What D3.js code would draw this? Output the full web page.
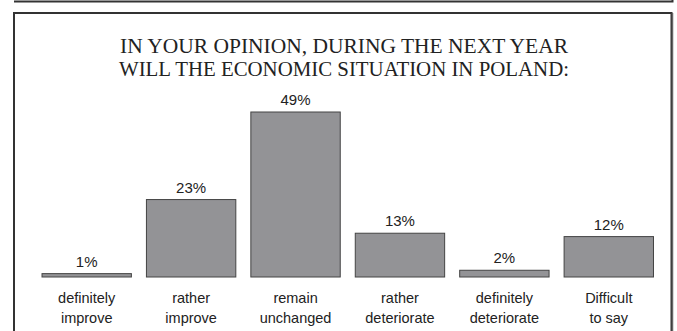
<!DOCTYPE html>
<html>
<head>
<meta charset="utf-8">
<script src="https://cdn.jsdelivr.net/npm/d3@7"></script>
<style>
  body { margin: 0; background: #fff; }
  svg { display: block; }
</style>
</head>
<body>
<script>
var categories = [["definitely", "improve"], ["rather", "improve"], ["remain", "unchanged"],
                  ["rather", "deteriorate"], ["definitely", "deteriorate"], ["Difficult", "to say"]];
var values = [1, 23, 49, 13, 2, 12];
var titleLines = ["IN YOUR OPINION, DURING THE NEXT YEAR", "WILL THE ECONOMIC SITUATION IN POLAND:"];

var width = 677, height = 331;

var svg = d3.select('body')
	.append('svg')
	.attr('width', width)
	.attr('height', height);

// strip of the previous box above
svg.append('path')
	.attr('d', 'M14,1.5H672.5V-2')
	.attr('fill', 'none')
	.attr('stroke', '#333')
	.attr('stroke-width', 2);

// frame
svg.append('path')
	.attr('d', 'M14,340V13H671.5V340')
	.attr('fill', 'none')
	.attr('stroke', '#333')
	.attr('stroke-width', 2);
svg.append('line')
	.attr('x1', 672.5).attr('x2', 672.5)
	.attr('y1', 13).attr('y2', 340)
	.attr('stroke', '#666')
	.attr('stroke-width', 1.5);

// title
svg.append('text')
	.attr('font-family', '"Liberation Serif", "Times New Roman", serif')
	.attr('font-size', 22)
	.attr('fill', '#222')
	.attr('text-anchor', 'middle')
	.selectAll('tspan')
	.data(titleLines)
	.enter().append('tspan')
		.attr('x', 344)
		.attr('y', function(d, i) { return 53 + i * 23; })
		.attr('textLength', function(d, i) { return i ? 450 : 448; })
		.attr('lengthAdjust', 'spacingAndGlyphs')
		.text(function(d) { return d; });

var x = d3.scaleBand()
	.domain(d3.range(values.length))
	.range([34.5, 661])
	.paddingInner(0.144)
	.paddingOuter(0.072);

var y = d3.scaleLinear()
	.domain([0, 49])
	.range([277, 112]);

var g = svg.append('g');

g.selectAll('rect')
	.data(values)
	.enter().append('rect')
		.attr('x', function(d, i) { return x(i); })
		.attr('y', function(d) { return y(d); })
		.attr('width', x.bandwidth())
		.attr('height', function(d) { return y(0) - y(d); })
		.attr('fill', '#939396')
		.attr('stroke', '#444')
		.attr('stroke-width', 1);

// value labels
g.selectAll('.val')
	.data(values)
	.enter().append('text')
		.attr('class', 'val')
		.attr('x', function(d, i) { return x(i) + x.bandwidth() / 2; })
		.attr('y', function(d) { return y(d) - 7; })
		.attr('text-anchor', 'middle')
		.attr('font-family', '"Liberation Sans", Arial, sans-serif')
		.attr('font-size', 15)
		.attr('fill', '#222')
		.text(function(d) { return d + '%'; });

// category labels
var cat = g.selectAll('.cat')
	.data(categories)
	.enter().append('text')
		.attr('class', 'cat')
		.attr('text-anchor', 'middle')
		.attr('font-family', '"Liberation Sans", Arial, sans-serif')
		.attr('font-size', 14.5)
		.attr('fill', '#222');

cat.selectAll('tspan')
	.data(function(d, i) { return d.map(function(s) { return {s: s, i: i}; }); })
	.enter().append('tspan')
		.attr('x', function(d) { return x(d.i) + x.bandwidth() / 2; })
		.attr('y', function(d, j) { return 303 + j * 20; })
		.text(function(d) { return d.s; });
</script>
</body>
</html>
